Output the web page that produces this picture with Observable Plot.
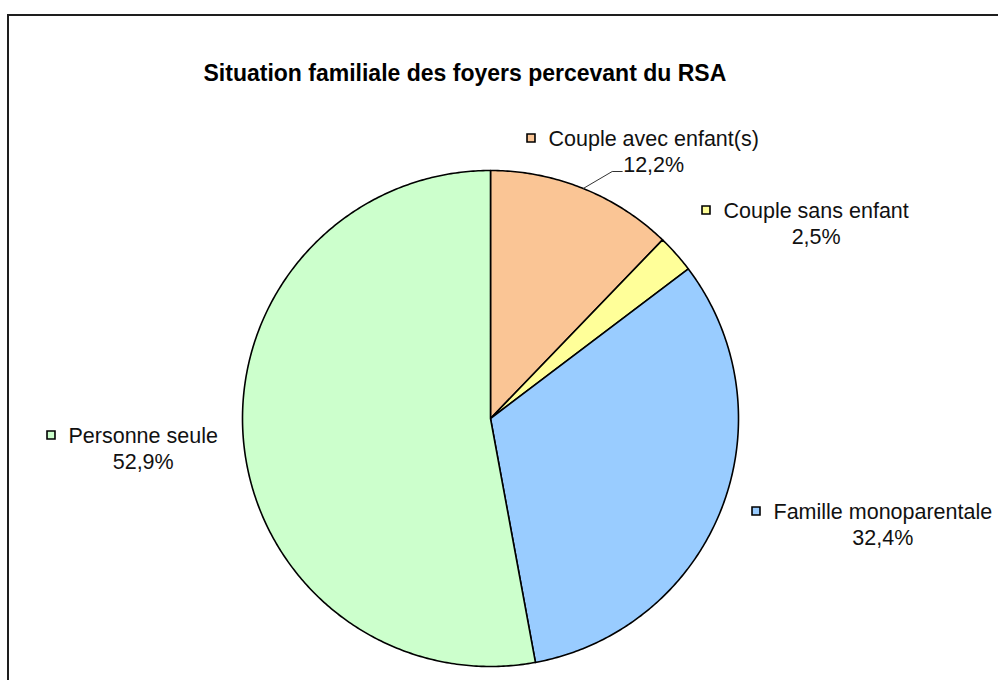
<!DOCTYPE html>
<html>
<head>
<meta charset="utf-8">
<script src="https://cdn.jsdelivr.net/npm/d3@7"></script>
<script src="https://cdn.jsdelivr.net/npm/@observablehq/plot@0.6"></script>
<style>
  html, body { margin: 0; padding: 0; background: #fff; overflow: hidden; }
  #wrap { position: relative; width: 998px; height: 680px; }
  #border { position: absolute; left: 7px; top: 14px; width: 1000px; height: 700px;
            border-left: 2.5px solid #1e1e1e; border-top: 2.5px solid #1e1e1e; }
  #chart { position: absolute; left: 0; top: 0; }
</style>
</head>
<body>
<div id="wrap"><div id="border"></div><div id="chart"></div></div>
<script>
// ---- data ----
const title = "Situation familiale des foyers percevant du RSA";
const categories = ["Couple avec enfant(s)", "Couple sans enfant", "Famille monoparentale", "Personne seule"];
const shares = [12.2, 2.5, 32.4, 52.9];
const valueLabels = ["12,2%", "2,5%", "32,4%", "52,9%"];
const colors = ["#FAC595", "#FFFF99", "#99CCFF", "#CCFFCC"];

// ---- layout (pixels) ----
const W = 998, H = 680;
const cx = 490, cy = 418, R = 248;
const fontFamily = "'Liberation Sans', Arial, sans-serif";
const labelSize = 21.5;
const titleSize = 23;
// left edge of the key square and vertical centre of the name line, per category
const labelLeft = [525, 700, 750, 45];
const labelTop = [139, 211, 512, 436];
const lineGap = 26;

const ux = px => (px - cx) / R;
const uy = py => (cy - py) / R;

// text measurement
const ctx = document.createElement("canvas").getContext("2d");
ctx.font = `${labelSize}px ${fontFamily}`;
const tw = s => ctx.measureText(s).width;

// pie geometry
const arcs = d3.pie().sort(null).value(d => d)(shares);
const slicePts = [];
arcs.forEach((a, i) => {
  const n = Math.max(2, Math.ceil((a.endAngle - a.startAngle) / 0.01));
  slicePts.push({key: i, x: 0, y: 0, color: colors[i]});
  for (let k = 0; k <= n; k++) {
    const t = a.startAngle + (a.endAngle - a.startAngle) * k / n;
    slicePts.push({key: i, x: Math.sin(t), y: Math.cos(t), color: colors[i]});
  }
  slicePts.push({key: i, x: 0, y: 0, color: colors[i]});
});

// labels
const labels = categories.map((c, i) => {
  const textStart = labelLeft[i] + 23;
  const nameW = tw(c);
  const center = textStart + nameW / 2;
  return {
    name: c, value: valueLabels[i], color: colors[i],
    sqX: ux(labelLeft[i] + 5.5), sqY: uy(labelTop[i] - 1.5),
    nameX: ux(textStart), nameY: uy(labelTop[i]),
    valX: ux(center), valY: uy(labelTop[i] + lineGap),
    valLeft: center - tw(valueLabels[i]) / 2
  };
});

// leader line for the first slice (from arc midpoint to its value label)
const mid0 = (arcs[0].startAngle + arcs[0].endAngle) / 2;
const endX = labels[0].valLeft - 1, endY = labelTop[0] + lineGap + 6;
const leader = [
  {x: Math.sin(mid0), y: Math.cos(mid0)},
  {x: ux(endX - 10), y: uy(endY)},
  {x: ux(endX), y: uy(endY)}
];

const chart = Plot.plot({
  width: W, height: H,
  margin: 0,
  x: {domain: [-1, 1], range: [cx - R, cx + R], axis: null},
  y: {domain: [-1, 1], range: [cy + R, cy - R], axis: null},
  color: {type: "identity"},
  style: {fontFamily, background: "transparent", overflow: "visible"},
  marks: [
    Plot.line(slicePts, {x: "x", y: "y", z: "key", fill: "color", stroke: "#000",
      strokeWidth: 1.6, strokeLinejoin: "round", curve: "linear"}),
    Plot.line(leader, {x: "x", y: "y", stroke: "#333", strokeWidth: 1}),
    Plot.dot(labels, {x: "sqX", y: "sqY", symbol: "square", r: 4.5, fill: "color",
      stroke: "#000", strokeWidth: 1.6}),
    Plot.text(labels, {x: "nameX", y: "nameY", text: "name", textAnchor: "start",
      fontSize: labelSize, fill: "#111"}),
    Plot.text(labels, {x: "valX", y: "valY", text: "value", textAnchor: "middle",
      fontSize: labelSize, fill: "#111"}),
    Plot.text([title], {frameAnchor: "top-left", dx: 203, dy: 64, textAnchor: "start",
      fontSize: titleSize, fontWeight: "bold", fill: "#000"})
  ]
});
document.getElementById("chart").appendChild(chart);
</script>
</body>
</html>
